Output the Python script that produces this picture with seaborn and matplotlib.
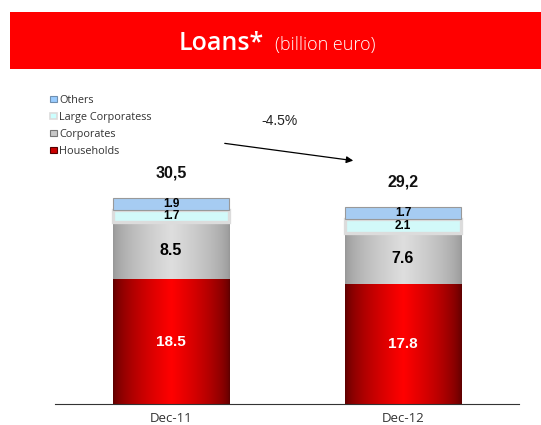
""" Stacked loans chart, Dec-11 vs Dec-12. """

import numpy as np
import pandas as pd
import seaborn as sns
import matplotlib.pyplot as plt
from matplotlib.colors import LinearSegmentedColormap
from matplotlib.patches import Rectangle

# Data (billion euro)
periods = ["Dec-11", "Dec-12"]
households = [18.5, 17.8]
corporates = [8.5, 7.6]
large_corporates = [1.7, 2.1]
others = [1.9, 1.7]
totals = [30.5, 29.2]
change_label = "-4.5%"

segment_names = ["Households", "Corporates", "Large Corporatess", "Others"]
segment_values = [households, corporates, large_corporates, others]


def gradient_fill(ax, patch, cmap, zorder):
    """ Paint a horizontal shaded gradient inside a bar patch. """
    t = np.linspace(0, 1, 256)
    v = (1 - np.abs(2 * t - 1)) ** 0.6
    x0, y0 = patch.get_x(), patch.get_y()
    w, h = patch.get_width(), patch.get_height()
    im = ax.imshow(v[np.newaxis, :], cmap=cmap, aspect="auto",
                   extent=[x0, x0 + w, y0, y0 + h], zorder=zorder,
                   interpolation="bilinear", vmin=0, vmax=1)
    im.set_clip_path(patch)


def main() -> None:
    """ Main function. """
    sns.set_style("white")
    plt.rcParams["font.family"] = ["Open Sans", "DejaVu Sans"]

    fig = plt.figure(figsize=(5.41, 4.25), dpi=100)
    ax = fig.add_axes([0.1017, 0.0494, 0.8577, 0.741])

    df = pd.DataFrame({"period": periods})
    styles = {
        "Households": dict(color="#cc0000", edgecolor="none", linewidth=0),
        "Corporates": dict(color="#bbbbbb", edgecolor="none", linewidth=0),
        "Large Corporatess": dict(color="#ccffff", edgecolor="#dcdcdc", linewidth=2.4),
        "Others": dict(color="#99ccff", edgecolor="#999999", linewidth=0.8),
    }
    cmaps = {
        "Households": LinearSegmentedColormap.from_list("hh", ["#5a0000", "#ff0000"]),
        "Corporates": LinearSegmentedColormap.from_list("co", ["#969696", "#dedede"]),
    }
    text_styles = {
        "Households": dict(color="white", fontsize=11),
        "Corporates": dict(color="black", fontsize=11.5),
        "Large Corporatess": dict(color="black", fontsize=8.5),
        "Others": dict(color="black", fontsize=8.5),
    }

    bottoms = np.zeros(len(periods))
    for i, (name, vals) in enumerate(zip(segment_names, segment_values)):
        df[name] = vals
        sns.barplot(data=df, x="period", y=name, order=periods, width=0.5,
                    bottom=list(bottoms), zorder=2 + i, ax=ax, **styles[name])
        container = ax.containers[-1]
        for patch, val in zip(container, vals):
            if name in cmaps:
                gradient_fill(ax, patch, cmaps[name], zorder=2 + i + 0.1)
            ax.text(patch.get_x() + patch.get_width() / 2,
                    patch.get_y() + patch.get_height() / 2, f"{val:.1f}",
                    ha="center", va="center", fontweight="bold",
                    family=["Liberation Sans"], zorder=10,
                    **text_styles[name])
        bottoms += np.array(vals)

    # Totals above the bars
    for xpos, (tot, top) in enumerate(zip(totals, bottoms)):
        ax.annotate(f"{tot:.1f}".replace(".", ","), (xpos, top),
                    xytext=(0, 18), textcoords="offset points",
                    ha="center", va="center", fontsize=11.5, fontweight="bold",
                    family=["Liberation Sans"], color="#111111")

    ax.set_xlim(-0.5, 1.5)
    ax.set_ylim(0, 46.7)
    ax.set_yticks([])
    ax.set_xlabel("")
    ax.set_ylabel("")
    for side in ["left", "right", "top"]:
        ax.spines[side].set_visible(False)
    ax.spines["bottom"].set_color("#333333")
    ax.spines["bottom"].set_linewidth(0.8)
    ax.set_xticks([-0.5, 0.5, 1.5], minor=True)
    ax.tick_params(axis="x", which="minor", length=4, width=0.8,
                   color="#333333", direction="out")
    ax.tick_params(axis="x", which="major", length=0, pad=6,
                   labelsize=9.5, labelcolor="#333333")

    # Legend
    handles = [
        Rectangle((0, 0), 1, 1, facecolor="#99ccff", edgecolor="#6f8fb0", lw=0.8),
        Rectangle((0, 0), 1, 1, facecolor="#ccffff", edgecolor="#dcdcdc", lw=1.2),
        Rectangle((0, 0), 1, 1, facecolor="#c8c8c8", edgecolor="#777777", lw=0.8),
        Rectangle((0, 0), 1, 1, facecolor="#cc0000", edgecolor="#550000", lw=0.8),
    ]
    fig.legend(handles, ["Others", "Large Corporatess", "Corporates", "Households"],
               loc="upper left", bbox_to_anchor=(0.085, 0.787), frameon=False,
               fontsize=7.8, handlelength=0.6, handleheight=0.55,
               handletextpad=0.2, labelspacing=0.55, borderaxespad=0,
               labelcolor="#333333")

    # Change arrow
    ax.annotate("", xy=(356 / 541, 1 - 161 / 425), xytext=(222 / 541, 1 - 143 / 425),
                xycoords="figure fraction", textcoords="figure fraction",
                arrowprops=dict(arrowstyle="-|>", color="black", lw=0.9,
                                mutation_scale=10))
    fig.text(280 / 541, 1 - 121 / 425, change_label, ha="center", va="center",
             fontsize=10, family=["Liberation Sans"], color="#222222")

    # Title banner
    fig.patches.append(Rectangle((10 / 541, 1 - 69 / 425), 1, 57 / 425,
                                 transform=fig.transFigure, facecolor="#ff0000",
                                 edgecolor="none", zorder=0))
    fig.text(264 / 541, 1 - 50 / 425, "Loans*", ha="right", va="baseline",
             fontsize=18, color="white", fontweight="semibold")
    fig.text(275 / 541, 1 - 50 / 425, "(billion euro)", ha="left", va="baseline",
             fontsize=13, color="white", fontweight="light")

    fig.savefig("out.png", dpi=100)


if __name__ == "__main__":
    main()
